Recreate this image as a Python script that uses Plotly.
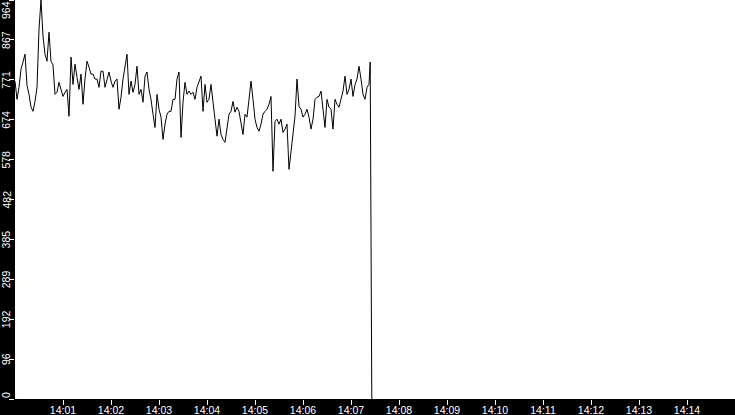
import pandas as pd
import plotly.graph_objects as go

# samples every 2.5 s starting 14:00:00
start = "2024-01-01 14:00:00"
step_s = 2.5
values = [
    768, 724, 753, 797, 814, 833, 758, 736, 705, 695, 719, 753, 894, 964, 877, 833,
    816, 886, 816, 807, 736, 741, 765, 744, 731, 741, 748, 683, 826, 760, 809, 777,
    748, 785, 712, 773, 816, 802, 785, 785, 773, 773, 753, 792, 792, 753, 773, 790,
    768, 753, 768, 773, 700, 729, 773, 804, 833, 736, 768, 741, 760, 804, 736, 748,
    717, 780, 790, 748, 724, 688, 656, 736, 700, 681, 627, 664, 688, 695, 695, 724,
    724, 773, 790, 632, 717, 765, 736, 744, 736, 741, 724, 753, 768, 780, 695, 760,
    717, 724, 760, 712, 676, 635, 676, 639, 627, 620, 652, 688, 695, 719, 693, 705,
    695, 664, 639, 688, 681, 724, 768, 724, 676, 656, 647, 664, 688, 695, 700, 712,
    731, 550, 671, 676, 664, 676, 644, 652, 664, 555, 603, 652, 683, 773, 707, 700,
    681, 688, 700, 681, 652, 676, 724, 729, 731, 744, 695, 656, 724, 705, 700, 652,
    724, 712, 705, 724, 744, 780, 736, 748, 773, 731, 760, 773, 804, 773, 736, 724,
    753, 760,
]
# the final drop
tail_times = ["2024-01-01 14:07:24", "2024-01-01 14:07:25", "2024-01-01 14:07:26"]
tail_values = [814, 403, 0]

y_ticks = [0, 96.4, 192.8, 289.2, 385.6, 482, 578.4, 674.8, 771.2, 867.6, 964]
y_labels = ["0", "96", "192", "289", "385", "482", "578", "674", "771", "867", "964"]
x_labels = ["14:01", "14:02", "14:03", "14:04", "14:05", "14:06", "14:07",
            "14:08", "14:09", "14:10", "14:11", "14:12", "14:13", "14:14"]

times = pd.Timestamp(start) + pd.to_timedelta([i * step_s for i in range(len(values))], unit="s")
x = list(times) + [pd.Timestamp(t) for t in tail_times]
y = values + tail_values

fig = go.Figure(go.Scatter(x=x, y=y, mode="lines", line=dict(color="black", width=1),
                           hoverinfo="skip"))

font = dict(family="Liberation Sans", size=10.5, color="white")

fig.update_xaxes(range=["2024-01-01 14:00:00", "2024-01-01 14:15:00"],
                 tickvals=["2024-01-01 " + t + ":00" for t in x_labels], ticktext=x_labels,
                 ticks="outside", ticklen=5, tickcolor="white", tickfont=font,
                 ticklabelstandoff=-4, automargin=False,
                 showgrid=False, zeroline=False, showline=False)
fig.update_yaxes(range=[0, 964], tickvals=y_ticks, showticklabels=False,
                 ticks="outside", ticklen=5, tickcolor="white", automargin=False,
                 showgrid=False, zeroline=False, showline=False)

# rotated y labels, kept inside the strip at the ends
for i, (v, lab) in enumerate(zip(y_ticks, y_labels)):
    anchor = "bottom" if i == 0 else ("top" if i == len(y_ticks) - 1 else "middle")
    fig.add_annotation(x=0, xref="paper", y=v, yref="y", text=lab, textangle=-90,
                       showarrow=False, xanchor="right", yanchor=anchor, xshift=-2,
                       font=font, borderpad=0)

fig.update_layout(width=735, height=415, margin=dict(l=15, r=0, t=0, b=16),
                  paper_bgcolor="black", plot_bgcolor="white", showlegend=False)
fig.write_html("out.html", config={"displayModeBar": False},
               post_script="document.body.style.margin = '0';")
